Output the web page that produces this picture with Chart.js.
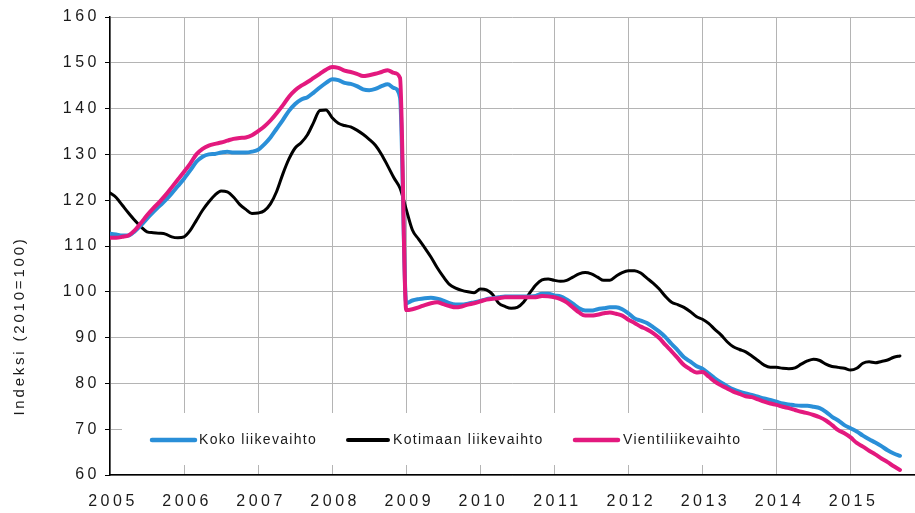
<!DOCTYPE html>
<html>
<head>
<meta charset="utf-8">
<script src="https://cdn.jsdelivr.net/npm/chart.js@4"></script>
<style>
  html, body { margin:0; padding:0; background:#fff; }
  canvas { display:block; }
</style>
</head>
<body>
<canvas id="chart" width="915" height="513"></canvas>
<script>
// --- Dane (miesiäsittäin, 1/2005 - 9/2015) ---
const startYear = 2005;
const yearTicks = [2005, 2006, 2007, 2008, 2009, 2010, 2011, 2012, 2013, 2014, 2015];
const seriesNames = ['Koko liikevaihto', 'Kotimaan liikevaihto', 'Vientiliikevaihto'];

const koko = [
  112.7,112.5,112.3,112.3,113.2,114.5,116,117.4,118.7,120,121.5,123.1,
  124.7,126.5,128.4,129.5,130,130.1,130.4,130.6,130.4,130.4,130.4,130.6,
  131,132.2,133.7,135.6,137.5,139.5,141,142,142.5,143.5,144.6,145.6,
  146.4,146.2,145.6,145.4,144.9,144.2,144,144.3,144.9,145.3,144.5,142.4,
  97.5,98.1,98.4,98.6,98.7,98.5,98.1,97.5,97.2,97.2,97.4,97.7,
  98,98.4,98.6,98.8,99,99,99,99,99,99.1,99.6,99.6,
  99.2,99,98.3,97.4,96.4,95.9,95.9,96.2,96.4,96.6,96.6,96.2,
  95.3,94.2,93.7,93.2,92.3,91.3,90.1,88.6,87.2,85.7,84.8,83.8,
  83.2,82.2,81.1,80.2,79.4,78.7,78.2,77.8,77.5,77.1,76.7,76.4,
  76,75.6,75.4,75.2,75.1,75.1,74.9,74.6,73.8,72.7,71.9,70.9,
  70.2,69.5,68.6,67.8,67.1,66.3,65.4,64.7,64.2
];
const kotimaan = [
  121.6,120.6,118.9,117.2,115.6,114.2,113.1,112.9,112.8,112.6,112,111.8,
  112,113.4,115.6,117.8,119.6,121.1,122,121.8,120.7,119.1,118,117.1,
  117.2,117.7,119.2,121.9,125.7,129,131.4,132.6,134.3,137,139.6,139.7,
  138,136.8,136.3,136,135.3,134.4,133.3,132,130,127.5,124.9,122.6,
  118,113.5,111.5,109.6,107.6,105.3,103.3,101.6,100.8,100.3,100,99.8,
  100.6,100.4,99.4,97.5,96.8,96.4,96.6,97.7,99.7,101.5,102.6,102.8,
  102.5,102.3,102.5,103.2,103.9,104.2,103.9,103.2,102.5,102.5,103.4,104.2,
  104.6,104.6,104.1,103,101.9,100.6,99,97.7,97.2,96.6,95.7,94.6,
  94,93.1,91.8,90.6,89.1,88,87.4,86.9,86,85,84,83.5,
  83.5,83.3,83.2,83.4,84.2,84.9,85.3,85,84.2,83.7,83.5,83.3,
  82.9,83.3,84.4,84.7,84.5,84.8,85.1,85.7,86
];
const vienti = [
  111.8,111.8,112,112.3,113.4,115,116.7,118.2,119.6,121.1,122.8,124.5,
  126.2,128,130,131.2,131.9,132.3,132.6,133,133.4,133.6,133.7,134.2,
  135.1,136.1,137.4,139,140.7,142.6,144,145,145.8,146.7,147.6,148.5,
  149.1,148.9,148.3,148,147.6,147.1,147.3,147.6,148,148.4,147.8,146.7,
  96,96.2,96.6,97.1,97.5,97.7,97.3,96.9,96.6,96.8,97.2,97.5,
  97.9,98.3,98.5,98.6,98.8,98.8,98.8,98.8,98.8,98.8,99.1,99,
  98.8,98.4,97.7,96.6,95.5,94.8,94.8,95,95.3,95.5,95.2,94.8,
  93.9,93.2,92.4,91.8,91,89.9,88.4,87,85.5,84,83.1,82.4,
  82.5,81.5,80.4,79.6,78.9,78.2,77.7,77.2,77,76.5,76,75.6,
  75.3,74.9,74.6,74.2,73.8,73.5,73.1,72.6,71.9,70.9,69.8,69.1,
  68.2,67,66.2,65.3,64.5,63.6,62.8,61.9,61.1
];

const colors = ['#2a8fd8', '#000000', '#e3197e'];
const toPoints = arr => arr.map((v, i) => ({x: startYear + i / 12, y: v}));

// --- Selite ja y-akselin otsikko ---
const legendItems = [
  {x1: 152, x2: 195, tx: 199},
  {x1: 348, x2: 388, tx: 393},
  {x1: 575, x2: 618, tx: 623}
];

const extras = {
  id: 'extras',
  beforeUpdate(chart){ chart.ctx.letterSpacing = '3.5px'; },
  beforeDraw(chart){ chart.ctx.letterSpacing = '3.5px'; },
  afterDatasetsDraw(chart){
    const ctx = chart.ctx;
    ctx.save();
    ctx.fillStyle = '#fff';
    ctx.fillRect(122, 413, 641, 52);
    ctx.font = '14px "Liberation Sans", Arial, sans-serif';
    ctx.letterSpacing = '1.3px';
    ctx.textBaseline = 'middle';
    ctx.textAlign = 'left';
    legendItems.forEach((it, i) => {
      ctx.strokeStyle = colors[i];
      ctx.lineWidth = i === 1 ? 4 : 4.5;
      ctx.lineCap = 'round';
      ctx.beginPath(); ctx.moveTo(it.x1, 440); ctx.lineTo(it.x2, 440); ctx.stroke();
      ctx.fillStyle = '#1a1a1a';
      ctx.fillText(seriesNames[i], it.tx, 440.5);
    });
    ctx.restore();
  },
  afterDraw(chart){
    const ctx = chart.ctx;
    ctx.save();
    ctx.translate(23.5, 326);
    ctx.rotate(-Math.PI / 2);
    ctx.font = '15px "Liberation Sans", Arial, sans-serif';
    ctx.letterSpacing = '2.8px';
    ctx.fillStyle = '#1a1a1a';
    ctx.textAlign = 'center';
    ctx.textBaseline = 'alphabetic';
    ctx.fillText('Indeksi (2010=100)', 0, 0);
    ctx.restore();
  }
};

const mkSet = (label, data, i, order, width) => ({
  label, data: toPoints(data), borderColor: colors[i], borderWidth: width,
  pointRadius: 0, cubicInterpolationMode: 'monotone', fill: false, order,
  borderCapStyle: 'round', borderJoinStyle: 'round'
});

new Chart(document.getElementById('chart'), {
  type: 'line',
  data: {
    datasets: [
      mkSet(seriesNames[0], koko, 0, 1, 4),
      mkSet(seriesNames[1], kotimaan, 1, 2, 3),
      mkSet(seriesNames[2], vienti, 2, 0, 4)
    ]
  },
  options: {
    responsive: false,
    animation: false,
    events: [],
    layout: { padding: { top: 17, right: 0, left: 0, bottom: 0 } },
    plugins: { legend: { display: false }, tooltip: { enabled: false } },
    scales: {
      x: {
        type: 'linear', min: 2005, max: 2015.87,
        afterBuildTicks: s => { s.ticks = yearTicks.map(v => ({value: v})); },
        afterFit: s => { s.height = 38; },
        ticks: { autoSkip: false, maxRotation: 0, padding: 17, labelOffset: 3, color: '#1a1a1a',
          font: { size: 16, family: '"Liberation Sans", Arial, sans-serif' },
          callback: v => String(v) },
        grid: { color: '#b4b4b4', lineWidth: 1, drawTicks: false },
        border: { color: '#000', width: 1.5 }
      },
      y: {
        min: 60, max: 160,
        afterFit: s => { s.width = 110; },
        ticks: { stepSize: 10, padding: 5, color: '#1a1a1a',
          font: { size: 16, family: '"Liberation Sans", Arial, sans-serif' } },
        grid: { color: '#b4b4b4', lineWidth: 1, tickLength: 5, tickColor: '#000' },
        border: { color: '#000', width: 1.5 }
      }
    }
  },
  plugins: [extras]
});
</script>
</body>
</html>
